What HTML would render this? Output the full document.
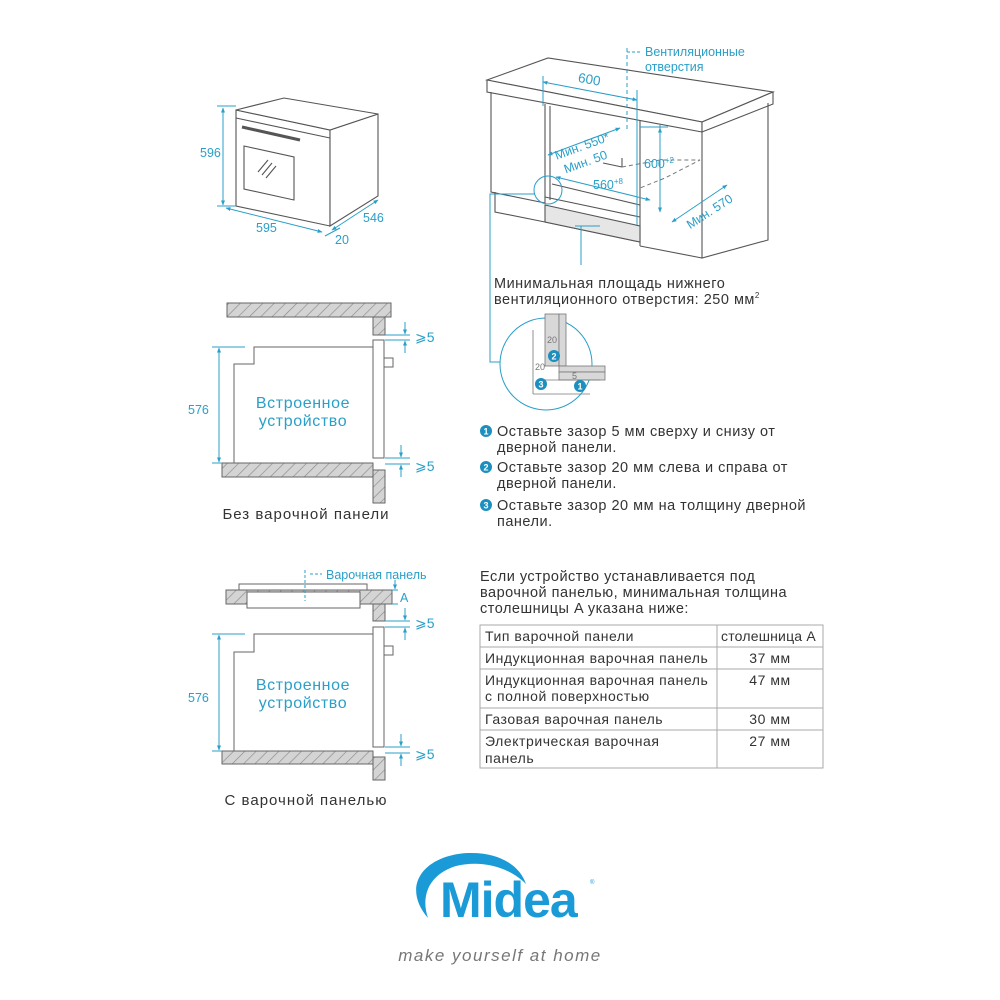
<!DOCTYPE html>
<html><head><meta charset="utf-8"><style>
html,body{margin:0;padding:0;background:#fff}
svg{display:block}
text{font-family:"Liberation Sans","DejaVu Sans",sans-serif}
.m{font-size:14.5px;letter-spacing:0.5px}
.t{font-size:14px;letter-spacing:0.55px}
</style></head><body>
<svg width="1000" height="1000" viewBox="0 0 1000 1000" xmlns="http://www.w3.org/2000/svg">
<defs>
<pattern id="h" width="8" height="8" patternUnits="userSpaceOnUse" patternTransform="rotate(45)">
<rect width="8" height="8" fill="#d4d4d4"/><line x1="0" y1="0" x2="0" y2="8" stroke="#8a8a8a" stroke-width="1.3"/>
</pattern>
<marker id="a" viewBox="0 0 10 10" refX="9" refY="5" markerWidth="5" markerHeight="5" orient="auto-start-reverse"><path d="M0,1 L10,5 L0,9z" fill="#2a9fc8"/></marker>
</defs>
<g fill="none" stroke="#555" stroke-width="1.1">
<polygon points="236,110 330,130 330,226 236,206" fill="#fff"/>
<polygon points="330,130 378,114 378,196 330,226" fill="#fff"/>
<polygon points="236,110 284,98 378,114 330,130" fill="#fff"/>
<line x1="236" y1="118" x2="330" y2="138"/>
<line x1="242" y1="127" x2="300" y2="140" stroke-width="3"/>
<polygon points="244,146 294,157 294,200 244,189"/>
<line x1="258" y1="172" x2="268" y2="160"/><line x1="262" y1="175" x2="272" y2="163"/><line x1="266" y1="178" x2="276" y2="166"/>
</g>
<g stroke="#2a9fc8" stroke-width="1" fill="none">
<line x1="223" y1="108" x2="223" y2="205" marker-start="url(#a)" marker-end="url(#a)"/>
<line x1="217" y1="106" x2="236" y2="106"/><line x1="217" y1="206" x2="236" y2="206"/>
<line x1="226" y1="208" x2="322" y2="232" marker-start="url(#a)" marker-end="url(#a)"/>
<line x1="332" y1="230" x2="378" y2="200" marker-start="url(#a)" marker-end="url(#a)"/>
<line x1="325" y1="236" x2="340" y2="228"/>
</g>
<g fill="#2a9fc8" font-size="12.5">
<text x="200" y="157">596</text>
<text x="256" y="232">595</text>
<text x="363" y="222">546</text>
<text x="335" y="244">20</text>
</g>

<g fill="#fff" stroke="#555" stroke-width="1.1">
<polygon points="487,80 548,58 773,92 702,122"/>
<polygon points="487,80 702,122 702,132 487,92"/>
<polygon points="702,122 773,92 773,104 702,132"/>
<polyline points="491,92 491,192 545,203 545,104" fill="none"/>
<polyline points="702,132 702,258 768,240 768,103" fill="none"/>
<line x1="640" y1="120" x2="640" y2="246"/>
<polyline points="495,192 495,212 545,222" fill="none"/>
<polyline points="545,222 640,242" fill="none"/>
<line x1="640" y1="246" x2="702" y2="258"/>
<polygon points="545,205 640,226 640,242 545,222" fill="#e6e6e6"/>
<line x1="550" y1="106" x2="550" y2="200"/>
<line x1="545" y1="197" x2="640" y2="217"/>
<line x1="552" y1="184" x2="640" y2="205"/>
<line x1="603" y1="163" x2="622" y2="167"/>
<line x1="622" y1="167" x2="622" y2="158"/>
</g>
<g stroke="#777" stroke-dasharray="4,3" fill="none" stroke-width="1">
<polyline points="622,167 660,160 700,160 665,178 640,188"/>
<line x1="660" y1="125" x2="660" y2="160"/>
</g>
<g stroke="#2a9fc8" stroke-width="1" fill="none">
<line x1="627" y1="48" x2="627" y2="130" stroke-dasharray="4,3"/>
<line x1="627" y1="52" x2="642" y2="52" stroke-dasharray="3,2"/>
<line x1="543" y1="82" x2="637" y2="100" marker-start="url(#a)" marker-end="url(#a)"/>
<line x1="543" y1="76" x2="543" y2="106"/><line x1="637" y1="90" x2="637" y2="225"/>
<line x1="548" y1="155" x2="620" y2="128" marker-start="url(#a)" marker-end="url(#a)"/>
<line x1="660" y1="128" x2="660" y2="212" marker-start="url(#a)" marker-end="url(#a)"/>
<line x1="640" y1="127" x2="668" y2="127"/>
<line x1="556" y1="177" x2="650" y2="200" marker-start="url(#a)" marker-end="url(#a)"/>
<line x1="672" y1="222" x2="727" y2="185" marker-start="url(#a)" marker-end="url(#a)"/>
<circle cx="548" cy="190" r="14"/>
<polyline points="535,194 490,194 490,362 510,362" marker-end="url(#a)"/>
<line x1="581" y1="226" x2="581" y2="265"/>
<line x1="575" y1="226" x2="600" y2="226"/>
</g>
<g fill="#2a9fc8" font-size="12.5">
<text x="645" y="56">Вентиляционные</text>
<text x="645" y="71">отверстия</text>
<text x="578" y="84" transform="rotate(10 590 80)" font-size="13.5">600</text>
<text x="553" y="151" transform="rotate(-20 580 145)">Мин. 550*</text>
<text x="563" y="168" transform="rotate(-20 580 163)">Мин. 50</text>
<text x="644" y="168">600<tspan font-size="8" dy="-5">+2</tspan></text>
<text x="593" y="189">560<tspan font-size="8" dy="-5">+8</tspan></text>
<text x="682" y="218" transform="rotate(-33 705 210)">Мин. 570</text>
</g>
<g fill="#333" class="m">
<text x="494" y="288">Минимальная площадь нижнего</text>
<text x="494" y="304">вентиляционного отверстия: 250 мм<tspan font-size="8" dy="-6">2</tspan></text>
</g>
<g>
<circle cx="546" cy="364" r="46" fill="#fff" stroke="#2a9fc8" stroke-width="1"/>
<rect x="545" y="314" width="14" height="52" fill="#d8d8d8" stroke="#777" stroke-width=".8"/>
<rect x="559" y="314" width="7" height="52" fill="#d8d8d8" stroke="#777" stroke-width=".8"/>
<rect x="559" y="366" width="46" height="6" fill="#d8d8d8" stroke="#777" stroke-width=".8"/>
<rect x="559" y="372" width="46" height="8" fill="#d8d8d8" stroke="#777" stroke-width=".8"/>
<line x1="533" y1="330" x2="533" y2="394" stroke="#777" stroke-width=".8"/>
<line x1="533" y1="394" x2="590" y2="394" stroke="#777" stroke-width=".8"/>
<line x1="545" y1="380" x2="600" y2="380" stroke="#777" stroke-width=".8"/>
<text x="547" y="343" font-size="9" fill="#777">20</text>
<text x="535" y="370" font-size="9" fill="#777">20</text>
<text x="572" y="379" font-size="9" fill="#777">5</text>
<circle cx="554" cy="356" r="6" fill="#1d8fbf"/><text x="554" y="359.5" font-size="9" fill="#fff" text-anchor="middle" font-weight="bold">2</text>
<circle cx="541" cy="384" r="6" fill="#1d8fbf"/><text x="541" y="387.5" font-size="9" fill="#fff" text-anchor="middle" font-weight="bold">3</text>
<circle cx="580" cy="386" r="6" fill="#1d8fbf"/><text x="580" y="389.5" font-size="9" fill="#fff" text-anchor="middle" font-weight="bold">1</text>
</g>
<g fill="#333">
<circle cx="486" cy="431" r="6" fill="#1d8fbf"/><text x="486" y="434.5" font-size="9" fill="#fff" text-anchor="middle" font-weight="bold">1</text>
<text class="m" x="497" y="436">Оставьте зазор 5 мм сверху и снизу от</text>
<text class="m" x="497" y="452">дверной панели.</text>
<circle cx="486" cy="467" r="6" fill="#1d8fbf"/><text x="486" y="470.5" font-size="9" fill="#fff" text-anchor="middle" font-weight="bold">2</text>
<text class="m" x="497" y="472">Оставьте зазор 20 мм слева и справа от</text>
<text class="m" x="497" y="488">дверной панели.</text>
<circle cx="486" cy="505" r="6" fill="#1d8fbf"/><text x="486" y="508.5" font-size="9" fill="#fff" text-anchor="middle" font-weight="bold">3</text>
<text class="m" x="497" y="510">Оставьте зазор 20 мм на толщину дверной</text>
<text class="m" x="497" y="526">панели.</text>
</g>

<g stroke="#666" stroke-width="1">
<rect x="227" y="303" width="164" height="14" fill="url(#h)"/>
<rect x="373" y="317" width="12" height="18" fill="url(#h)"/>
<rect x="222" y="463" width="151" height="14" fill="url(#h)"/>
<rect x="373" y="470" width="12" height="33" fill="url(#h)"/>
<polyline points="373,347 254,347 254,364 234,364 234,463" fill="#fff"/>
<rect x="373" y="340" width="11" height="118" fill="#fff"/>
<rect x="384" y="358" width="9" height="9" fill="#fff"/>
</g>
<g stroke="#2a9fc8" stroke-width="1" fill="none">
<line x1="219" y1="348" x2="219" y2="462" marker-start="url(#a)" marker-end="url(#a)"/>
<line x1="212" y1="347" x2="245" y2="347"/><line x1="212" y1="463" x2="222" y2="463"/>
<line x1="385" y1="335" x2="410" y2="335"/><line x1="385" y1="340" x2="410" y2="340"/>
<line x1="405" y1="322" x2="405" y2="334" marker-end="url(#a)"/><line x1="405" y1="353" x2="405" y2="341" marker-end="url(#a)"/>
<line x1="385" y1="458" x2="410" y2="458"/><line x1="385" y1="464" x2="410" y2="464"/>
<line x1="401" y1="445" x2="401" y2="457" marker-end="url(#a)"/><line x1="401" y1="477" x2="401" y2="465" marker-end="url(#a)"/>
</g>
<g fill="#2a9fc8">
<text x="188" y="414" font-size="12.5">576</text>
<text x="415" y="342" font-size="14">⩾5</text>
<text x="415" y="471" font-size="14">⩾5</text>
<text x="303" y="408" font-size="16" letter-spacing="0.6" text-anchor="middle">Встроенное</text>
<text x="303" y="426" font-size="16" letter-spacing="0.6" text-anchor="middle">устройство</text>
</g>
<text x="306" y="519" font-size="15" letter-spacing="1" fill="#333" text-anchor="middle">Без варочной панели</text>

<g stroke="#666" stroke-width="1">
<rect x="226" y="590" width="166" height="14" fill="url(#h)"/>
<rect x="247" y="592" width="113" height="16" fill="#fff"/>
<rect x="239" y="584" width="128" height="6" fill="#fff"/>
<rect x="373" y="604" width="12" height="17" fill="url(#h)"/>
<rect x="222" y="751" width="151" height="13" fill="url(#h)"/>
<rect x="373" y="757" width="12" height="23" fill="url(#h)"/>
<polyline points="373,634 254,634 254,652 234,652 234,751" fill="#fff"/>
<rect x="373" y="627" width="11" height="120" fill="#fff"/>
<rect x="384" y="646" width="9" height="9" fill="#fff"/>
</g>
<g stroke="#2a9fc8" stroke-width="1" fill="none">
<line x1="305" y1="570" x2="305" y2="601" stroke-dasharray="3,2"/>
<line x1="310" y1="574" x2="322" y2="574" stroke-dasharray="3,2"/>
<line x1="219" y1="635" x2="219" y2="750" marker-start="url(#a)" marker-end="url(#a)"/>
<line x1="212" y1="634" x2="245" y2="634"/><line x1="212" y1="751" x2="222" y2="751"/>
<line x1="392" y1="590" x2="398" y2="590"/><line x1="392" y1="604" x2="398" y2="604"/>
<line x1="395" y1="580" x2="395" y2="589" marker-end="url(#a)"/>
<line x1="385" y1="621" x2="410" y2="621"/><line x1="385" y1="627" x2="410" y2="627"/>
<line x1="405" y1="608" x2="405" y2="620" marker-end="url(#a)"/><line x1="405" y1="640" x2="405" y2="628" marker-end="url(#a)"/>
<line x1="385" y1="747" x2="410" y2="747"/><line x1="385" y1="753" x2="410" y2="753"/>
<line x1="401" y1="734" x2="401" y2="746" marker-end="url(#a)"/><line x1="401" y1="766" x2="401" y2="754" marker-end="url(#a)"/>
</g>
<g fill="#2a9fc8">
<text x="326" y="579" font-size="12.5">Варочная панель</text>
<text x="400" y="602" font-size="12.5">A</text>
<text x="188" y="702" font-size="12.5">576</text>
<text x="415" y="628" font-size="14">⩾5</text>
<text x="415" y="759" font-size="14">⩾5</text>
<text x="303" y="690" font-size="16" letter-spacing="0.6" text-anchor="middle">Встроенное</text>
<text x="303" y="708" font-size="16" letter-spacing="0.6" text-anchor="middle">устройство</text>
</g>
<text x="306" y="805" font-size="15" letter-spacing="1" fill="#333" text-anchor="middle">С варочной панелью</text>

<g fill="#333" class="m">
<text x="480" y="581">Если устройство устанавливается под</text>
<text x="480" y="597">варочной панелью, минимальная толщина</text>
<text x="480" y="613">столешницы A указана ниже:</text>
</g>
<g stroke="#aaa" stroke-width="1" fill="none">
<rect x="480" y="625" width="343" height="143"/>
<line x1="480" y1="647" x2="823" y2="647"/>
<line x1="480" y1="669" x2="823" y2="669"/>
<line x1="480" y1="708" x2="823" y2="708"/>
<line x1="480" y1="730" x2="823" y2="730"/>
<line x1="717" y1="625" x2="717" y2="768"/>
</g>
<g fill="#333" class="t">
<text x="485" y="641">Тип варочной панели</text>
<text x="721" y="641" letter-spacing="0.2">столешница A</text>
<text x="485" y="663">Индукционная варочная панель</text>
<text x="770" y="663" text-anchor="middle">37 мм</text>
<text x="485" y="685">Индукционная варочная панель</text>
<text x="485" y="701">с полной поверхностью</text>
<text x="770" y="685" text-anchor="middle">47 мм</text>
<text x="485" y="724">Газовая варочная панель</text>
<text x="770" y="724" text-anchor="middle">30 мм</text>
<text x="485" y="746">Электрическая варочная</text>
<text x="485" y="763">панель</text>
<text x="770" y="746" text-anchor="middle">27 мм</text>
</g>

<path d="M428,918 C400,885 425,855 468,853 C500,852 520,866 526,884 C508,866 480,860 456,866 C430,874 420,895 428,918z" fill="#1a9ad6"/>
<text x="440" y="917" font-size="50" font-weight="bold" fill="#1a9ad6" letter-spacing="-1">Midea</text>
<text x="590" y="884" font-size="6" fill="#1a9ad6">®</text>
<text x="500" y="961" font-size="17" font-style="italic" fill="#777" text-anchor="middle" font-family="Liberation Serif, serif" letter-spacing="1.5">make yourself at home</text>
</svg>
</body></html>
